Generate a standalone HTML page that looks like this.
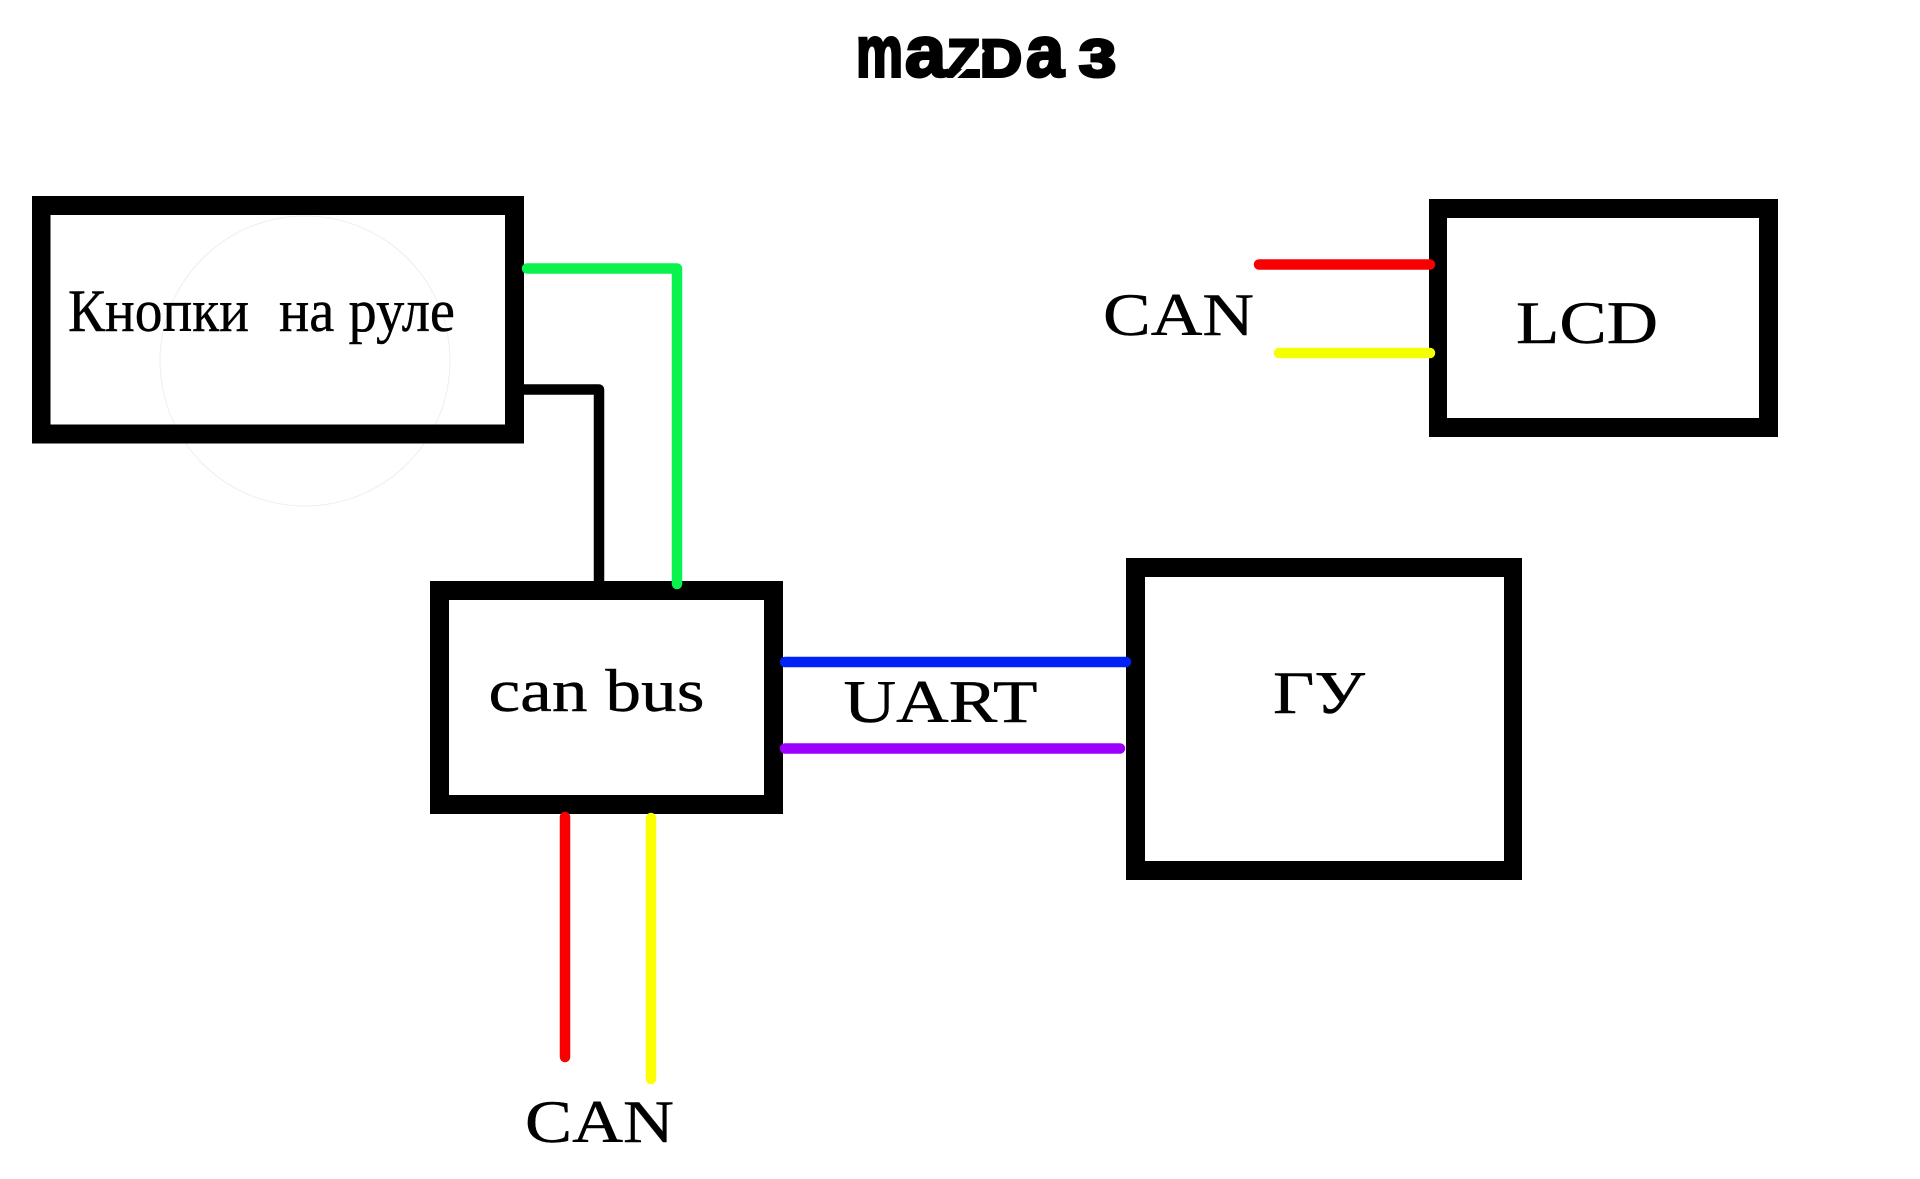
<!DOCTYPE html>
<html lang="ru">
<head>
<meta charset="utf-8">
<title>Mazda 3 diagram</title>
<style>
html,body{margin:0;padding:0;background:#fff;width:1920px;height:1179px;overflow:hidden}
svg{display:block}
.t{font-family:"Liberation Serif","Noto Serif CJK SC",serif;font-size:60px;fill:#000;stroke:#000;stroke-width:.4px}
.l{font-family:"Liberation Sans",sans-serif;font-weight:700;fill:#000;stroke:#000;stroke-width:3px;stroke-linejoin:miter}
.lo{font-size:72px}
.up{font-size:53px}
</style>
</head>
<body>
<svg width="1920" height="1179" viewBox="0 0 1920 1179" xmlns="http://www.w3.org/2000/svg">
<rect width="1920" height="1179" fill="#fff"/>

<text class="l lo" x="856" y="76.500" textLength="47" lengthAdjust="spacingAndGlyphs">m</text>
<text class="l lo" x="905" y="76.500" textLength="41" lengthAdjust="spacingAndGlyphs">a</text>
<text class="l up" x="947" y="76.500" textLength="33" lengthAdjust="spacingAndGlyphs">Z</text>
<text class="l up" x="980" y="76.500" textLength="42" lengthAdjust="spacingAndGlyphs">D</text>
<text class="l lo" x="1026" y="76.500" textLength="38" lengthAdjust="spacingAndGlyphs">a</text>
<text class="l up" x="1079" y="76.500" textLength="37" lengthAdjust="spacingAndGlyphs">3</text>
<line x1="953" y1="80" x2="984" y2="50" stroke="#fff" stroke-width="3"/>

<circle cx="305" cy="361" r="145" fill="none" stroke="#eeeeee" stroke-width="1"/>

<!-- boxes -->
<path fill="#000" fill-rule="evenodd" d="M32 196H524V443.500H32ZM50.500 215V424.500H505V215Z"/>
<path fill="#000" fill-rule="evenodd" d="M430 581H783V814H430ZM449 600V795H764V600Z"/>
<path fill="#000" fill-rule="evenodd" d="M1429 199H1778V437H1429ZM1447 218V418H1759V218Z"/>
<path fill="#000" fill-rule="evenodd" d="M1126 558H1522V880H1126ZM1145 577V861H1504V577Z"/>

<!-- wires -->
<g fill="none" stroke-width="10.500" stroke-linecap="round" stroke-linejoin="round">
<path d="M518 389.500H599V585" stroke="#000" stroke-linecap="butt"/>
<path d="M527 268.500H677V584" stroke="#0af24e"/>
<path d="M785 662H1126" stroke="#0022f5"/>
<path d="M785 748.500H1120" stroke="#9b00ff"/>
<path d="M565 817V1057" stroke="#f80000"/>
<path d="M651 818V1079" stroke="#fbff00"/>
<path d="M1259 264.500H1430" stroke="#f80000"/>
<path d="M1279 353H1430" stroke="#f4ff00"/>
</g>

<!-- labels -->
<text class="t" x="68" y="331" textLength="181" lengthAdjust="spacingAndGlyphs">Кнопки</text>
<text class="t" x="279" y="331" textLength="176" lengthAdjust="spacingAndGlyphs">на руле</text>
<text class="t" x="488.500" y="711" textLength="216" lengthAdjust="spacingAndGlyphs">can bus</text>
<text class="t" x="843.500" y="722" textLength="194" lengthAdjust="spacingAndGlyphs">UART</text>
<text class="t" x="525" y="1142" textLength="149" lengthAdjust="spacingAndGlyphs">CAN</text>
<text class="t" x="1103" y="335" textLength="151" lengthAdjust="spacingAndGlyphs">CAN</text>
<text class="t" x="1516" y="343" textLength="142" lengthAdjust="spacingAndGlyphs">LCD</text>
<text class="t" x="1273" y="713" textLength="92" lengthAdjust="spacingAndGlyphs">ГУ</text>
</svg>
</body>
</html>
